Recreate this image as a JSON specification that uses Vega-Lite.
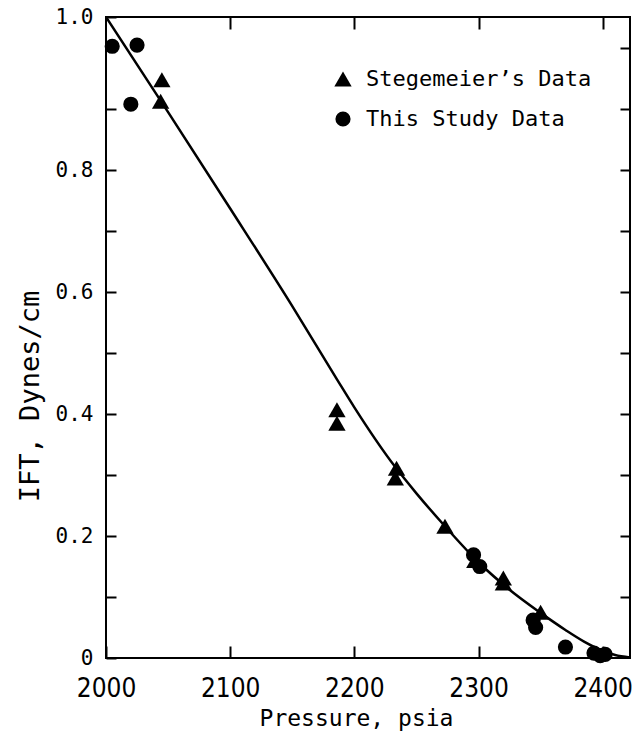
{
  "$schema": "https://vega.github.io/schema/vega-lite/v6.json",
  "autosize": {"type": "none"},
  "width": 524,
  "height": 641,
  "padding": {"left": 106, "top": 17, "right": 5, "bottom": 74},
  "background": "white",
  "config": {
    "view": {"stroke": "black", "strokeWidth": 2},
    "axis": {"domain": false, "grid": false, "tickColor": "black", "tickWidth": 2, "labelColor": "black", "titleColor": "black"}
  },
  "datasets": {
    "points": [
      {"P": 2045, "IFT": 0.948, "series": "Stegemeier’s Data"},
      {"P": 2044, "IFT": 0.913, "series": "Stegemeier’s Data"},
      {"P": 2186, "IFT": 0.407, "series": "Stegemeier’s Data"},
      {"P": 2186, "IFT": 0.385, "series": "Stegemeier’s Data"},
      {"P": 2234, "IFT": 0.311, "series": "Stegemeier’s Data"},
      {"P": 2233, "IFT": 0.295, "series": "Stegemeier’s Data"},
      {"P": 2273, "IFT": 0.216, "series": "Stegemeier’s Data"},
      {"P": 2297, "IFT": 0.160, "series": "Stegemeier’s Data"},
      {"P": 2320, "IFT": 0.131, "series": "Stegemeier’s Data"},
      {"P": 2320, "IFT": 0.123, "series": "Stegemeier’s Data"},
      {"P": 2350, "IFT": 0.075, "series": "Stegemeier’s Data"},
      {"P": 2005, "IFT": 1.003, "series": "This Study Data"},
      {"P": 2025, "IFT": 1.005, "series": "This Study Data"},
      {"P": 2020, "IFT": 0.908, "series": "This Study Data"},
      {"P": 2296, "IFT": 0.169, "series": "This Study Data"},
      {"P": 2301, "IFT": 0.150, "series": "This Study Data"},
      {"P": 2344, "IFT": 0.062, "series": "This Study Data"},
      {"P": 2346, "IFT": 0.050, "series": "This Study Data"},
      {"P": 2370, "IFT": 0.018, "series": "This Study Data"},
      {"P": 2393, "IFT": 0.008, "series": "This Study Data"},
      {"P": 2398, "IFT": 0.004, "series": "This Study Data"},
      {"P": 2402, "IFT": 0.006, "series": "This Study Data"}
    ],
    "curve": [
      {"P": 2000, "IFT": 1.051},
      {"P": 2050, "IFT": 0.895},
      {"P": 2100, "IFT": 0.737},
      {"P": 2150, "IFT": 0.577},
      {"P": 2186, "IFT": 0.457},
      {"P": 2200, "IFT": 0.411},
      {"P": 2233, "IFT": 0.313},
      {"P": 2250, "IFT": 0.270},
      {"P": 2273, "IFT": 0.216},
      {"P": 2300, "IFT": 0.157},
      {"P": 2325, "IFT": 0.112},
      {"P": 2350, "IFT": 0.074},
      {"P": 2370, "IFT": 0.046},
      {"P": 2385, "IFT": 0.027},
      {"P": 2400, "IFT": 0.012},
      {"P": 2410, "IFT": 0.005},
      {"P": 2422, "IFT": 0.001}
    ]
  },
  "layer": [
    {
      "data": {"name": "curve"},
      "mark": {"type": "line", "color": "black", "strokeWidth": 2.5, "interpolate": "monotone", "clip": true},
      "encoding": {
        "x": {"field": "P", "type": "quantitative", "scale": {"domain": [2000, 2422], "nice": false, "zero": false},
          "axis": {"orient": "top", "labels": false, "title": null, "values": [2100, 2200, 2300, 2400], "tickSize": -12}},
        "y": {"field": "IFT", "type": "quantitative", "scale": {"domain": [0, 1.051], "nice": false},
          "axis": {"orient": "right", "labels": false, "title": null, "values": [0.1, 0.2, 0.3, 0.4, 0.5, 0.6, 0.7, 0.8, 0.9, 1.0], "tickSize": -10}}
      }
    },
    {
      "data": {"name": "points"},
      "mark": {"type": "point", "filled": true, "opacity": 1, "color": "black"},
      "encoding": {
        "x": {"field": "P", "type": "quantitative", "scale": {"domain": [2000, 2422], "nice": false, "zero": false},
          "axis": {"orient": "bottom", "values": [2000, 2100, 2200, 2300, 2400], "format": "d", "tickSize": -12, "labelPadding": 29,
            "labelFont": "Liberation Sans Narrow, DejaVu Sans Condensed, sans-serif", "labelFontSize": 26, "labelFlush": false,
            "title": "Pressure, psia", "titleFont": "DejaVu Sans Mono", "titleFontSize": 23, "titleFontWeight": "normal",
            "titleX": 250, "titleY": 60, "titleAlign": "center", "titleBaseline": "middle"}},
        "y": {"field": "IFT", "type": "quantitative", "scale": {"domain": [0, 1.051], "nice": false},
          "axis": {"orient": "left", "values": [0, 0.1, 0.2, 0.3, 0.4, 0.5, 0.6, 0.7, 0.8, 0.9, 1.0, 1.051], "tickSize": -10, "labelPadding": 23,
            "labelExpr": "datum.value > 1.02 ? '1.0' : (datum.value == 0 ? '0' : ((round(datum.value * 10) % 2 == 0 && datum.value < 0.95) ? format(datum.value, '.1f') : ''))",
            "labelFont": "DejaVu Sans Mono", "labelFontSize": 21, "labelFlush": false, "labelBaseline": "middle",
            "title": "IFT, Dynes/cm", "titleFont": "DejaVu Sans Mono", "titleFontSize": 27, "titleFontWeight": "normal",
            "titleX": -76, "titleY": 379, "titleAlign": "center", "titleBaseline": "middle", "titleAngle": -90}},
        "shape": {"field": "series", "type": "nominal",
          "scale": {"domain": ["Stegemeier’s Data", "This Study Data"], "range": ["triangle-up", "circle"]},
          "legend": {"title": null, "orient": "none", "legendX": 226, "legendY": 51, "padding": 0,
            "labelFont": "DejaVu Sans Mono", "labelFontSize": 22, "labelColor": "black", "labelOffset": 12, "labelLimit": 0,
            "symbolFillColor": "black", "symbolStrokeColor": "black", "rowPadding": 18}},
        "size": {"field": "series", "type": "nominal",
          "scale": {"domain": ["Stegemeier’s Data", "This Study Data"], "range": [300, 230]},
          "legend": {"title": null, "orient": "none", "legendX": 226, "legendY": 51, "padding": 0,
            "labelFont": "DejaVu Sans Mono", "labelFontSize": 22, "labelColor": "black", "labelOffset": 12, "labelLimit": 0,
            "symbolFillColor": "black", "symbolStrokeColor": "black", "rowPadding": 18}}
      }
    }
  ],
  "resolve": {"axis": {"x": "independent", "y": "independent"}}
}
